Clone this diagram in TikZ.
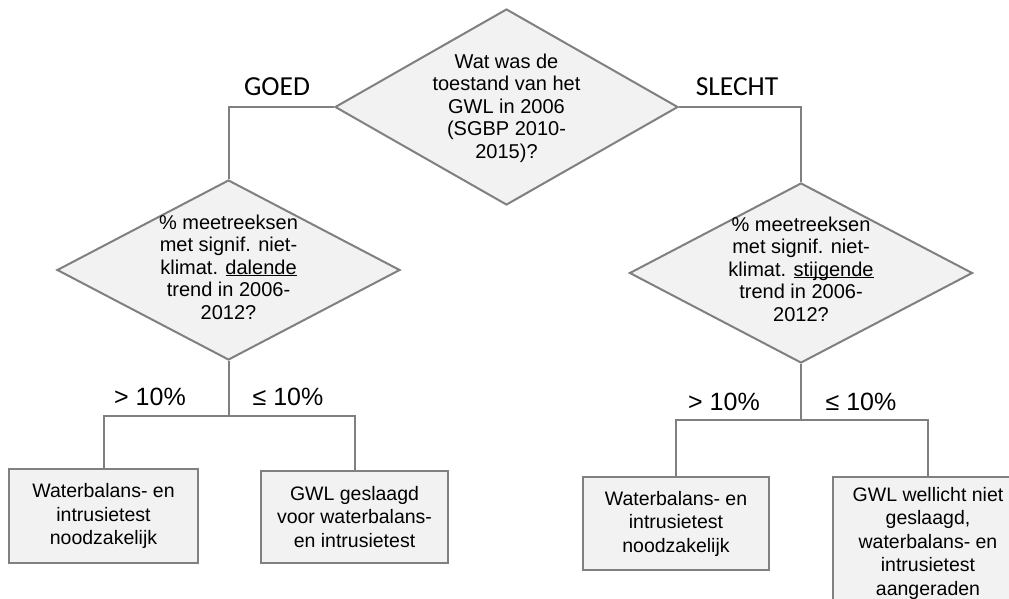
\documentclass[tikz,border=0pt]{standalone}
\usepackage{fontspec}
\setmainfont{Liberation Sans}
\newfontfamily\calib{Carlito}
\usetikzlibrary{shapes.geometric}
\definecolor{edgegray}{RGB}{128,128,128}
\definecolor{fillgray}{RGB}{242,242,242}
\newcommand\ulword[1]{\underline{\smash{#1}}}
\begin{document}
\begin{tikzpicture}[x=1pt,y=-1pt,
  decision/.style={diamond, draw=edgegray, fill=fillgray, line width=2pt, inner sep=0pt, minimum width=343pt},
  dtext/.style={font=\fontsize{20}{22.5}\selectfont, align=center, text=black, inner sep=0pt},
  outcome/.style={rectangle, draw=edgegray, fill=fillgray, line width=2pt, inner sep=0pt, align=center, font=\fontsize{19.5}{23.5}\selectfont, text=black},
  branch/.style={font=\calib\fontsize{27.5}{30}\selectfont, anchor=base, text=black, inner sep=0pt},
  pct/.style={font=\fontsize{25}{28}\selectfont, anchor=base, text=black, inner sep=0pt},
  conn/.style={draw=edgegray, line width=2pt}
]
\useasboundingbox (0,0) rectangle (1009,599);
\clip (0,0) rectangle (1009,599);
\fill[white] (0,0) rectangle (1009,599);

\node[decision, minimum height=196pt, label={[dtext, yshift=-1pt]center:{Wat was de\\toestand van het\\GWL in 2006\\(SGBP 2010-\\2015)?}}] (q0) at (506.5,107) {};
\node[decision, minimum height=180pt, label={[dtext, yshift=3pt]center:{\% meetreeksen\\met signif. niet-\\klimat. \ulword{dalende}\\trend in 2006-\\2012?}}] (q1) at (228.5,270) {};
\node[decision, minimum height=180pt, label={[dtext, yshift=4pt]center:{\% meetreeksen\\met signif. niet-\\klimat. \ulword{stijgende}\\trend in 2006-\\2012?}}] (q2) at (801,273) {};

\node[outcome, minimum width=189pt, minimum height=94pt] (b1) at (103.5,516) {Waterbalans- en\\intrusietest\\noodzakelijk};
\node[outcome, minimum width=187pt, minimum height=92pt] (b2) at (354.5,517) {GWL geslaagd\\voor waterbalans-\\en intrusietest};
\node[outcome, minimum width=186pt, minimum height=93pt] (b3) at (676,523.5) {Waterbalans- en\\intrusietest\\noodzakelijk};
\node[outcome, minimum width=190pt, minimum height=132pt] (b4) at (928,543) {GWL wellicht niet\\geslaagd,\\waterbalans- en\\intrusietest\\aangeraden};

\node[branch] (goed) at (277,96) {GOED};
\node[branch] (slecht) at (737,96) {SLECHT};

\node[pct] (p1) at (150,405) {> 10\%};
\node[pct] (p2) at (288,405) {≤ 10\%};
\node[pct] (p3) at (724,410) {> 10\%};
\node[pct] (p4) at (861,410) {≤ 10\%};

\draw[conn] (q0.west) -| (q1.north);
\draw[conn] (q0.east) -| (q2.north);

\coordinate (j1) at (228.5,416);
\draw[conn] (q1.south) -- (j1);
\draw[conn] (b1.north) -- (b1.north |- j1) -- (b2.north |- j1) -- (b2.north);

\coordinate (j2) at (801,420);
\draw[conn] (q2.south) -- (j2);
\draw[conn] (b3.north) -- (b3.north |- j2) -- (b4.north |- j2) -- (b4.north);
\end{tikzpicture}
\end{document}
